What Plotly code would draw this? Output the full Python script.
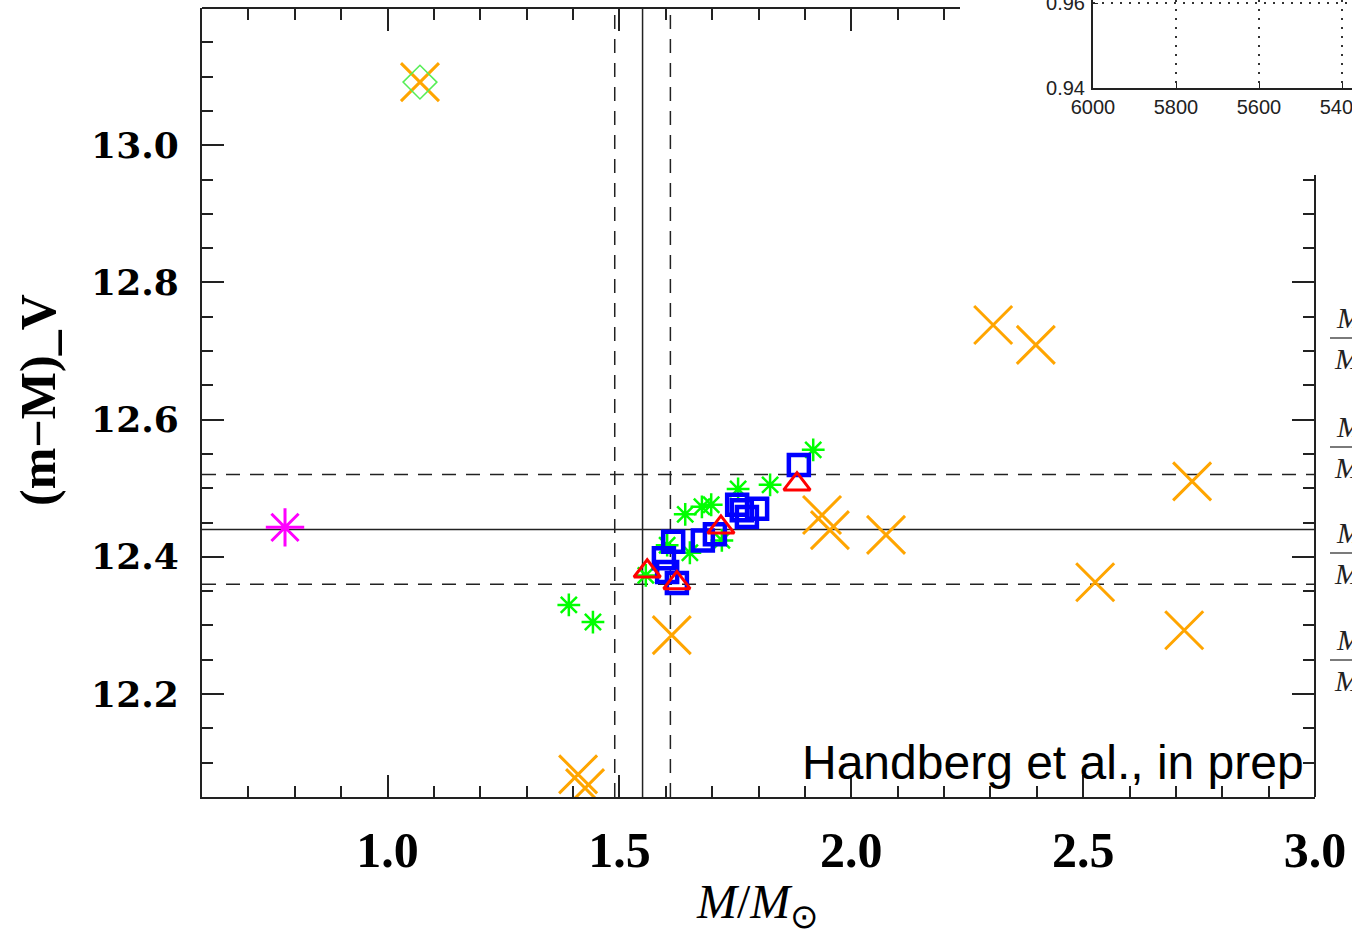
import plotly.graph_objects as go

W, H = 1352, 934

# ---------------- data ----------------
orange_x = [1.070, 1.411, 1.426, 1.613, 1.937, 1.954, 2.075, 2.306, 2.398, 2.735, 2.526, 2.718]
orange_y = [13.092, 12.083, 12.063, 12.286, 12.461, 12.439, 12.432, 12.738, 12.709, 12.510, 12.363, 12.293]

green_ast_x = [1.391, 1.443, 1.557, 1.603, 1.642, 1.678, 1.698, 1.652, 1.721, 1.756, 1.825, 1.918]
green_ast_y = [12.330, 12.305, 12.373, 12.417, 12.462, 12.473, 12.476, 12.406, 12.424, 12.499, 12.505, 12.556]

blue_sq_x = [1.616, 1.596, 1.603, 1.624, 1.680, 1.706, 1.754, 1.797, 1.775, 1.764, 1.887]
blue_sq_y = [12.422, 12.398, 12.378, 12.362, 12.424, 12.433, 12.476, 12.470, 12.458, 12.468, 12.534]

red_tri_x = [1.560, 1.624, 1.719, 1.883]
red_tri_y = [12.379, 12.362, 12.443, 12.506]

magenta_x = [0.779]
magenta_y = [12.443]

diamond_x = [1.070]
diamond_y = [13.092]

mass_best, mass_err = 1.55, 0.06
dm_best, dm_err = 12.44, 0.08

x_range = [0.6, 3.0]
y_range = [12.05, 13.2]
x_tick0, x_dtick, x_minor = 1.0, 0.5, 0.1
y_tick0, y_dtick, y_minor = 12.2, 0.2, 0.05

inset_x_ticks = [6000, 5800, 5600, 5400]
inset_y_ticks = [0.94, 0.96]

# ---------------- layout geometry (pixels) ----------------
PL, PR, PT, PB = 202, 1315, 8, 797       # main plot frame
TOP_END = 960                              # top frame visible up to here
RIGHT_START = 175                          # right frame visible from here
IL, IB = 1093, 88                          # inset left / bottom
INSET_XPX_PER_UNIT = 83 / 200.0
INSET_YPX_PER_UNIT = 85 / 0.02


def fx(px):
    return px / W


def fy(py):
    return 1 - py / H


def x_at(px):
    return x_range[0] + (px - PL) / (PR - PL) * (x_range[1] - x_range[0])


def y_at(py):
    return y_range[1] - (py - PT) / (PB - PT) * (y_range[1] - y_range[0])


AX = '#222222'
fig = go.Figure()

# marks
fig.add_trace(go.Scatter(x=green_ast_x, y=green_ast_y, mode='markers',
                         marker=dict(symbol='asterisk-open', size=19, color='#00FF00',
                                     line=dict(width=2.5, color='#00FF00'))))
fig.add_trace(go.Scatter(x=blue_sq_x, y=blue_sq_y, mode='markers',
                         marker=dict(symbol='square-open', size=20, color='#0000FF',
                                     line=dict(width=4.5, color='#0000FF'))))
fig.add_trace(go.Scatter(x=red_tri_x, y=red_tri_y, mode='markers',
                         marker=dict(symbol='triangle-up-open', size=23, color='#FF0000',
                                     line=dict(width=3, color='#FF0000'))))
fig.add_trace(go.Scatter(x=orange_x, y=orange_y, mode='markers',
                         marker=dict(symbol='x-thin-open', size=38, color='#FFA500',
                                     line=dict(width=3, color='#FFA500'))))
fig.add_trace(go.Scatter(x=diamond_x, y=diamond_y, mode='markers',
                         marker=dict(symbol='diamond-open', size=26, color='#55EE55',
                                     line=dict(width=1.5, color='#55EE55'))))
fig.add_trace(go.Scatter(x=magenta_x, y=magenta_y, mode='markers',
                         marker=dict(symbol='asterisk-open', size=32, color='#FF00FF',
                                     line=dict(width=3, color='#FF00FF'))))

# dummy traces so the extra axes are drawn
fig.add_trace(go.Scatter(x=[None], y=[None], xaxis='x2', yaxis='y2', hoverinfo='skip'))
fig.add_trace(go.Scatter(x=[None], y=[None], xaxis='x3', yaxis='y3', hoverinfo='skip'))

# reference lines
dash = '14px,10px'
for xv, d in [(mass_best, 'solid'), (mass_best - mass_err, dash), (mass_best + mass_err, dash)]:
    fig.add_shape(type='line', xref='x', yref='y domain', x0=xv, x1=xv, y0=0, y1=1,
                  line=dict(color=AX, width=1.5, dash=d), layer='below')
for yv, d in [(dm_best, 'solid'), (dm_best - dm_err, dash), (dm_best + dm_err, dash)]:
    fig.add_shape(type='line', xref='x domain', yref='y', x0=0, x1=1, y0=yv, y1=yv,
                  line=dict(color=AX, width=1.5, dash=d), layer='below')

tick_common = dict(ticks='inside', ticklen=22, tickwidth=1.5, tickcolor=AX,
                   showline=True, linecolor=AX, linewidth=2, showgrid=False, zeroline=False)

inset_font = dict(family='Liberation Sans', size=20, color='#222222')

fig.update_layout(
    width=W, height=H, margin=dict(l=0, r=0, t=0, b=0),
    paper_bgcolor='white', plot_bgcolor='rgba(0,0,0,0)', showlegend=False,
    template='none',
    xaxis=dict(domain=[fx(PL), fx(PR)], range=x_range, anchor='y',
               tickmode='linear', tick0=x_tick0, dtick=x_dtick, tickformat='.1f',
               minor=dict(ticks='inside', ticklen=11, tickwidth=1.5, tickcolor=AX,
                          dtick=x_minor, tick0=x_range[0]),
               tickfont=dict(family='Liberation Serif', size=50, color='black', weight='bold'),
               ticklabelstandoff=8, ticklabeloverflow='allow', **tick_common),
    yaxis=dict(domain=[fy(PB), fy(PT)], range=y_range, anchor='x',
               tickmode='linear', tick0=y_tick0, dtick=y_dtick, tickformat='.1f',
               minor=dict(ticks='inside', ticklen=11, tickwidth=1.5, tickcolor=AX,
                          dtick=y_minor, tick0=y_tick0),
               tickfont=dict(family='DejaVu Serif', size=36, color='black', weight='bold'),
               ticklabelstandoff=14, **tick_common),
    xaxis3=dict(domain=[fx(PL), fx(TOP_END)], range=[x_range[0], x_at(TOP_END)],
                anchor='free', position=fy(PT), side='top',
                tickmode='linear', tick0=x_tick0, dtick=x_dtick, showticklabels=False,
                minor=dict(ticks='inside', ticklen=11, tickwidth=1.5, tickcolor=AX,
                           dtick=x_minor, tick0=x_range[0]),
                **tick_common),
    yaxis3=dict(domain=[fy(PB), fy(RIGHT_START)], range=[y_range[0], y_at(RIGHT_START)],
                anchor='free', position=fx(PR), side='right',
                tickmode='linear', tick0=y_tick0, dtick=y_dtick, showticklabels=False,
                minor=dict(ticks='inside', ticklen=11, tickwidth=1.5, tickcolor=AX,
                           dtick=y_minor, tick0=y_tick0),
                **tick_common),
    xaxis2=dict(domain=[fx(IL), 1.0],
                range=[inset_x_ticks[0], inset_x_ticks[0] - (W - IL) / INSET_XPX_PER_UNIT],
                anchor='y2', tickmode='array', tickvals=inset_x_ticks,
                ticks='inside', ticklen=5, tickcolor=AX, showline=True, linecolor=AX,
                linewidth=2, showgrid=True, gridcolor='#333333', griddash='2px,7px', gridwidth=1.5,
                zeroline=False, ticklabelstandoff=0, ticklabeloverflow='allow',
                tickfont=inset_font),
    yaxis2=dict(domain=[fy(IB), 1.0],
                range=[inset_y_ticks[0], inset_y_ticks[0] + IB / INSET_YPX_PER_UNIT],
                anchor='x2', tickmode='array', tickvals=inset_y_ticks, tickformat='.2f',
                ticks='inside', ticklen=5, tickcolor=AX, showline=True, linecolor=AX,
                linewidth=2, showgrid=True, gridcolor='#333333', griddash='2px,7px', gridwidth=1.5,
                zeroline=False, ticklabelstandoff=2, ticklabeloverflow='allow',
                tickfont=inset_font),
)

# axis titles and text
fig.add_annotation(text='(m\u2212M)_V', xref='paper', yref='paper', x=fx(38), y=fy(400),
                   textangle=-90, showarrow=False, xanchor='center', yanchor='middle',
                   font=dict(family='Liberation Serif', size=50, color='black', weight='bold'))
fig.add_annotation(text='<i>M</i>/<i>M</i><sub>\u2299</sub>', xref='paper', yref='paper',
                   x=fx(757), y=fy(905), showarrow=False, xanchor='center', yanchor='middle',
                   font=dict(family='Liberation Serif', size=48, color='black'))
fig.add_annotation(text='Handberg et al., in prep', xref='paper', yref='paper',
                   x=fx(1306), y=fy(762), showarrow=False, xanchor='right', yanchor='middle',
                   font=dict(family='Liberation Sans', size=48, color='black'))

# partially visible fraction labels at the right edge
frac_y_px = [338, 447, 553, 660]
for fyp in frac_y_px:
    fig.add_annotation(text='<i>M</i>', xref='paper', yref='paper', x=fx(1334), y=fy(fyp - 2),
                       showarrow=False, xanchor='left', yanchor='bottom',
                       font=dict(family='Liberation Serif', size=30, color='#222222'))
    fig.add_annotation(text='<i>M</i>', xref='paper', yref='paper', x=fx(1332), y=fy(fyp + 2),
                       showarrow=False, xanchor='left', yanchor='top',
                       font=dict(family='Liberation Serif', size=30, color='#222222'))
    fig.add_shape(type='line', xref='paper', yref='paper', x0=fx(1330), x1=1.0,
                  y0=fy(fyp), y1=fy(fyp), line=dict(color='#222222', width=1.2))

fig.write_html('out.html')
